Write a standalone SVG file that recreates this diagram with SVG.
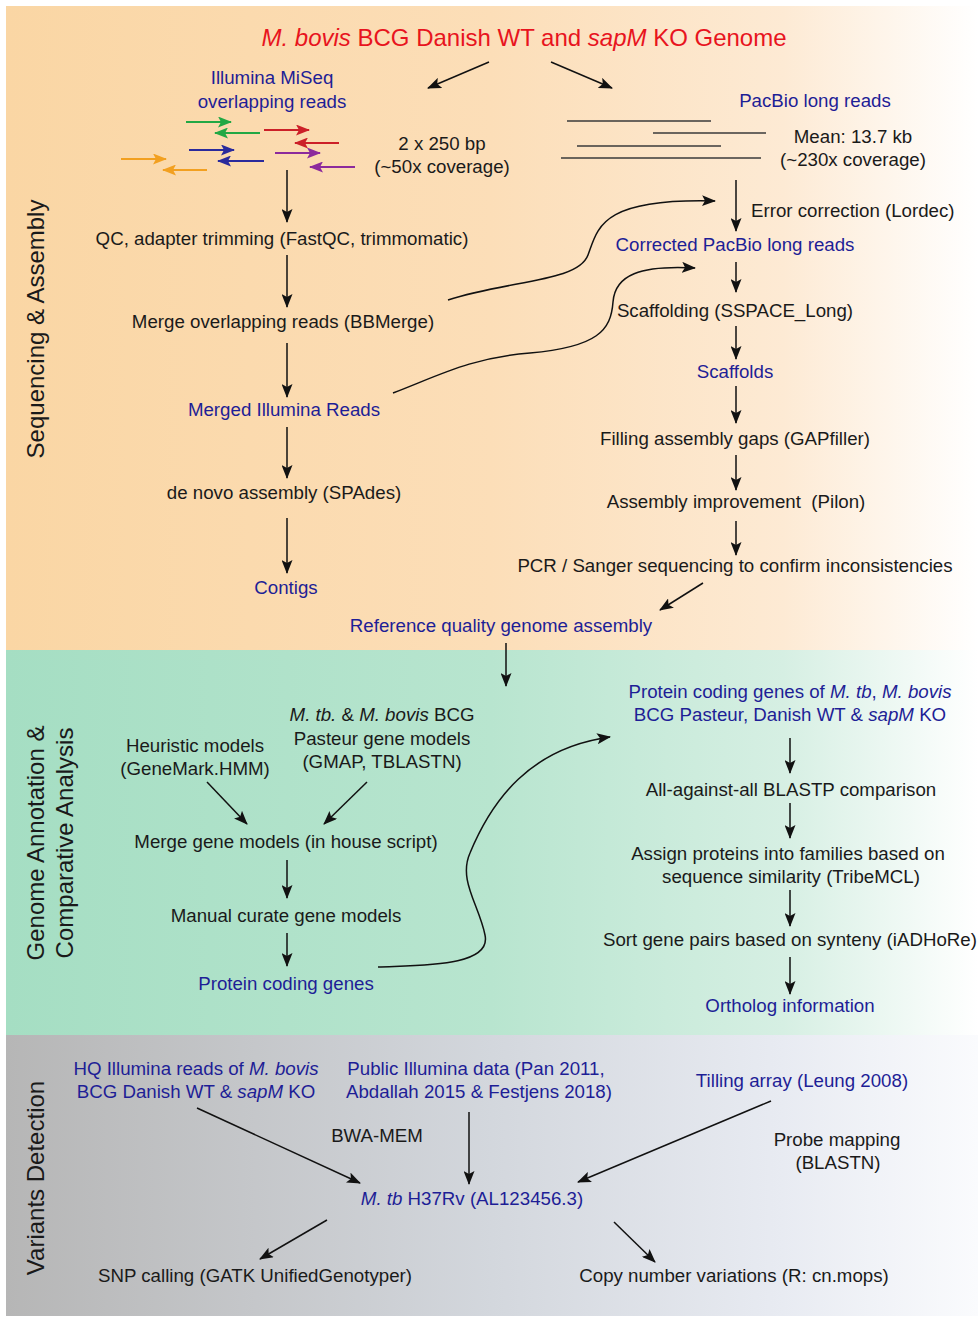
<svg xmlns="http://www.w3.org/2000/svg" width="978" height="1317" viewBox="0 0 978 1317">
<style>
text{font-family:"Liberation Sans",Arial,sans-serif;font-size:18.7px;fill:#1a1a1a;text-anchor:middle}
.b{fill:#1e1e96}
.r{fill:#e8141e}
.i{font-style:italic}
.lab{font-size:24px}
.c line,.c path{stroke:#111;stroke-width:1.5;fill:none;marker-end:url(#ah)}
.rd line{stroke-width:2;fill:none}
.pb line{stroke:#3a3a3a;stroke-width:1.6}
</style>
<defs>
<linearGradient id="g1" x1="0" x2="1" y1="0" y2="0"><stop offset="0" stop-color="#fad6a4"/><stop offset="0.5" stop-color="#fcdeb8"/><stop offset="0.8" stop-color="#fdead4"/><stop offset="1" stop-color="#ffffff"/></linearGradient>
<linearGradient id="g2" x1="0" x2="1" y1="0" y2="0"><stop offset="0" stop-color="#a5dec3"/><stop offset="0.5" stop-color="#b8e5cf"/><stop offset="0.8" stop-color="#d6efe3"/><stop offset="1" stop-color="#ffffff"/></linearGradient>
<linearGradient id="g3" x1="0" x2="1" y1="0" y2="0"><stop offset="0" stop-color="#b6b6b6"/><stop offset="0.5" stop-color="#d3d7dd"/><stop offset="0.8" stop-color="#e8ebf2"/><stop offset="1" stop-color="#fafbfd"/></linearGradient>
<marker id="ah" markerWidth="15" markerHeight="11" refX="13" refY="5.5" orient="auto" markerUnits="userSpaceOnUse"><path d="M0,0 L14,5.5 L0,11 L3,5.5 Z" fill="#111"/></marker>
<marker id="mg" markerWidth="15" markerHeight="11" refX="13" refY="5.5" orient="auto" markerUnits="userSpaceOnUse"><path d="M0,0 L14,5.5 L0,11 L3,5.5 Z" fill="#22a844"/></marker>
<marker id="mr" markerWidth="15" markerHeight="11" refX="13" refY="5.5" orient="auto" markerUnits="userSpaceOnUse"><path d="M0,0 L14,5.5 L0,11 L3,5.5 Z" fill="#cc2028"/></marker>
<marker id="mb" markerWidth="15" markerHeight="11" refX="13" refY="5.5" orient="auto" markerUnits="userSpaceOnUse"><path d="M0,0 L14,5.5 L0,11 L3,5.5 Z" fill="#2a2a9c"/></marker>
<marker id="mp" markerWidth="15" markerHeight="11" refX="13" refY="5.5" orient="auto" markerUnits="userSpaceOnUse"><path d="M0,0 L14,5.5 L0,11 L3,5.5 Z" fill="#8c2a9c"/></marker>
<marker id="mo" markerWidth="15" markerHeight="11" refX="13" refY="5.5" orient="auto" markerUnits="userSpaceOnUse"><path d="M0,0 L14,5.5 L0,11 L3,5.5 Z" fill="#f2a020"/></marker>
</defs>
<rect width="978" height="1317" fill="#ffffff"/>
<g id="bands">
<rect x="6" y="6" width="972" height="644" fill="url(#g1)"/>
<rect x="6" y="650" width="972" height="385" fill="url(#g2)"/>
<rect x="6" y="1035" width="972" height="281" fill="url(#g3)"/>
</g>
<g id="section-labels">
<text class="lab" transform="translate(44,329) rotate(-90)">Sequencing &amp; Assembly</text>
<text class="lab" transform="translate(44,843) rotate(-90)">Genome Annotation &amp;</text>
<text class="lab" transform="translate(73,843) rotate(-90)">Comparative Analysis</text>
<text class="lab" transform="translate(44,1178) rotate(-90)">Variants Detection</text>
</g>
<g id="n-title"><text x="524" y="46" class="r" style="font-size:24px"><tspan class="i">M. bovis</tspan> BCG Danish WT and <tspan class="i">sapM</tspan> KO Genome</text></g>
<g id="n-illumina"><text x="272" y="84" class="b">Illumina MiSeq</text><text x="272" y="108" class="b">overlapping reads</text></g>
<g id="n-reads">
<g class="rd">
<line x1="186" y1="122" x2="231" y2="122" stroke="#22a844" marker-end="url(#mg)"/>
<line x1="260" y1="133" x2="215" y2="133" stroke="#22a844" marker-end="url(#mg)"/>
<line x1="264" y1="130" x2="309" y2="130" stroke="#cc2028" marker-end="url(#mr)"/>
<line x1="339" y1="143" x2="295" y2="143" stroke="#cc2028" marker-end="url(#mr)"/>
<line x1="189" y1="150" x2="234" y2="150" stroke="#2a2a9c" marker-end="url(#mb)"/>
<line x1="264" y1="161" x2="218" y2="161" stroke="#2a2a9c" marker-end="url(#mb)"/>
<line x1="275" y1="153" x2="320" y2="153" stroke="#8c2a9c" marker-end="url(#mp)"/>
<line x1="355" y1="167" x2="310" y2="167" stroke="#8c2a9c" marker-end="url(#mp)"/>
<line x1="121" y1="159" x2="166" y2="159" stroke="#f2a020" marker-end="url(#mo)"/>
<line x1="207" y1="170" x2="163" y2="170" stroke="#f2a020" marker-end="url(#mo)"/>
</g>
</g>
<g id="n-250"><text x="442" y="150">2 x 250 bp</text><text x="442" y="173">(~50x coverage)</text></g>
<g id="n-pacbio"><text x="815" y="107" class="b">PacBio long reads</text></g>
<g id="n-pblines" class="pb">
<line x1="567" y1="121" x2="711" y2="121"/>
<line x1="653" y1="133" x2="766" y2="133"/>
<line x1="577" y1="146" x2="721" y2="146"/>
<line x1="561" y1="158" x2="761" y2="158"/>
</g>
<g id="n-mean"><text x="853" y="143">Mean: 13.7 kb</text><text x="853" y="166">(~230x coverage)</text></g>
<g id="n-errcorr"><text x="751" y="217" style="text-anchor:start">Error correction (Lordec)</text></g>
<g id="n-qc"><text x="282" y="245">QC, adapter trimming (FastQC, trimmomatic)</text></g>
<g id="n-corrected"><text x="735" y="251" class="b">Corrected PacBio long reads</text></g>
<g id="n-merge"><text x="283" y="328">Merge overlapping reads (BBMerge)</text></g>
<g id="n-scaffolding"><text x="735" y="317">Scaffolding (SSPACE_Long)</text></g>
<g id="n-scaffolds"><text x="735" y="378" class="b">Scaffolds</text></g>
<g id="n-merged"><text x="284" y="416" class="b">Merged Illumina Reads</text></g>
<g id="n-gapfill"><text x="735" y="445">Filling assembly gaps (GAPfiller)</text></g>
<g id="n-denovo"><text x="284" y="499">de novo assembly (SPAdes)</text></g>
<g id="n-pilon"><text x="736" y="508" xml:space="preserve">Assembly improvement  (Pilon)</text></g>
<g id="n-pcr"><text x="735" y="572">PCR / Sanger sequencing to confirm inconsistencies</text></g>
<g id="n-contigs"><text x="286" y="594" class="b">Contigs</text></g>
<g id="n-refq"><text x="501" y="632" class="b">Reference quality genome assembly</text></g>
<g id="n-pcg-of"><text x="790" y="698" class="b">Protein coding genes of <tspan class="i">M. tb</tspan>, <tspan class="i">M. bovis</tspan></text><text x="790" y="721" class="b">BCG Pasteur, Danish WT &amp; <tspan class="i">sapM</tspan> KO</text></g>
<g id="n-pasteur"><text x="382" y="721"><tspan class="i">M. tb.</tspan> &amp; <tspan class="i">M. bovis</tspan> BCG</text><text x="382" y="745">Pasteur gene models</text><text x="382" y="768">(GMAP, TBLASTN)</text></g>
<g id="n-heur"><text x="195" y="752">Heuristic models</text><text x="195" y="775">(GeneMark.HMM)</text></g>
<g id="n-blastp"><text x="791" y="796">All-against-all BLASTP comparison</text></g>
<g id="n-mergegm"><text x="286" y="848">Merge gene models (in house script)</text></g>
<g id="n-assign"><text x="788" y="860">Assign proteins into families based on</text><text x="791" y="883">sequence similarity (TribeMCL)</text></g>
<g id="n-manual"><text x="286" y="922">Manual curate gene models</text></g>
<g id="n-sort"><text x="790" y="946">Sort gene pairs based on synteny (iADHoRe)</text></g>
<g id="n-pcg"><text x="286" y="990" class="b">Protein coding genes</text></g>
<g id="n-ortho"><text x="790" y="1012" class="b">Ortholog information</text></g>
<g id="n-hq"><text x="196" y="1075" class="b">HQ Illumina reads of <tspan class="i">M. bovis</tspan></text><text x="196" y="1098" class="b">BCG Danish WT &amp; <tspan class="i">sapM</tspan> KO</text></g>
<g id="n-public"><text x="476" y="1075" class="b">Public Illumina data (Pan 2011,</text><text x="479" y="1098" class="b">Abdallah 2015 &amp; Festjens 2018)</text></g>
<g id="n-tilling"><text x="802" y="1087" class="b">Tilling array (Leung 2008)</text></g>
<g id="n-bwa"><text x="377" y="1142">BWA-MEM</text></g>
<g id="n-probe"><text x="837" y="1146">Probe mapping</text><text x="838" y="1169">(BLASTN)</text></g>
<g id="n-h37rv"><text x="472" y="1205" class="b"><tspan class="i">M. tb</tspan> H37Rv (AL123456.3)</text></g>
<g id="n-snp"><text x="255" y="1282">SNP calling (GATK UnifiedGenotyper)</text></g>
<g id="n-cnv"><text x="734" y="1282">Copy number variations (R: cn.mops)</text></g>
<g id="connectors" class="c">
<line x1="489" y1="62" x2="428" y2="88"/>
<line x1="551" y1="62" x2="612" y2="88"/>
<line x1="287" y1="170" x2="287" y2="222"/>
<line x1="287" y1="255" x2="287" y2="307"/>
<line x1="287" y1="343" x2="287" y2="397"/>
<line x1="287" y1="427" x2="287" y2="478"/>
<line x1="287" y1="518" x2="287" y2="573"/>
<line x1="736" y1="180" x2="736" y2="231"/>
<line x1="736" y1="262" x2="736" y2="292"/>
<line x1="736" y1="326" x2="736" y2="359"/>
<line x1="736" y1="386" x2="736" y2="423"/>
<line x1="736" y1="455" x2="736" y2="490"/>
<line x1="736" y1="521" x2="736" y2="555"/>
<line x1="703" y1="583" x2="660" y2="610"/>
<path d="M448,300 C510,280 578,282 588,255 C598,228 600,198 715,201"/>
<path d="M393,393 C440,375 470,358 530,353 C598,347 611,330 613,302 C615,275 640,265 695,268"/>
<line x1="506" y1="643" x2="506" y2="686"/>
<line x1="207" y1="782" x2="247" y2="824"/>
<line x1="367" y1="782" x2="324" y2="824"/>
<line x1="287" y1="860" x2="287" y2="898"/>
<line x1="287" y1="933" x2="287" y2="966"/>
<line x1="790" y1="738" x2="790" y2="773"/>
<line x1="790" y1="803" x2="790" y2="838"/>
<line x1="790" y1="890" x2="790" y2="926"/>
<line x1="790" y1="957" x2="790" y2="994"/>
<path d="M378,967 C420,965 492,967 485,935 C479,905 458,880 470,853 C492,800 530,748 610,737"/>
<line x1="197" y1="1108" x2="360" y2="1183"/>
<line x1="469" y1="1112" x2="469" y2="1184"/>
<line x1="771" y1="1101" x2="578" y2="1182"/>
<line x1="327" y1="1220" x2="260" y2="1259"/>
<line x1="614" y1="1222" x2="655" y2="1262"/>
</g>
</svg>
